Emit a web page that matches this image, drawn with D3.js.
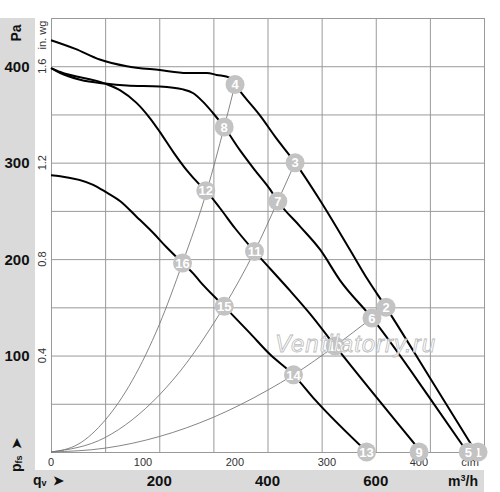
<!DOCTYPE html>
<html>
<head>
<meta charset="utf-8">
<script src="https://cdn.jsdelivr.net/npm/d3@7"></script>
<style>
  body { margin: 0; background: #fff; }
  svg { display: block; font-family: "Liberation Sans", Arial, sans-serif; }
</style>
</head>
<body>
<div id="chart"></div>
<script>
// Fan curves, [airflow m3/h, pressure Pa]
var curve1 = [[0, 427], [45, 418], [90, 407], [140, 400], [201, 396], [251, 393], [288, 393], [306, 391],
  [331, 388], [340, 381], [358, 368], [386, 349], [414, 327], [451, 300], [497, 261], [552, 210],
  [586, 178], [619, 150], [700, 77], [785, 0]];
var curve2 = [[0, 398], [17, 393], [54, 386], [100, 382], [140, 380], [201, 379], [244, 376], [263, 372],
  [281, 363], [300, 351], [320, 337], [349, 313], [377, 292], [405, 272], [419, 260], [460, 234],
  [497, 210], [534, 178], [593, 139], [706, 51], [769, 0]];
var curve3 = [[0, 398], [17, 394], [100, 382], [128, 375], [158, 362], [183, 346], [201, 332], [226, 311],
  [251, 292], [275, 277], [286, 271], [312, 253], [340, 232], [376, 208], [405, 190], [442, 167],
  [479, 143], [525, 110], [684, 0]];
var curve4 = [[0, 287], [17, 286], [78, 277], [100, 270], [128, 260], [158, 244], [189, 227], [214, 212],
  [243, 196], [263, 185], [275, 177], [320, 151], [368, 123], [405, 101], [448, 80], [488, 54], [584, 0]];

// System (duct) curves, thin grey
var system1 = [[0, 0], [50, 8], [100, 33], [150, 74], [200, 132], [243, 196], [288, 271], [320, 337], [340, 381]];
var system2 = [[0, 0], [100, 15], [200, 59], [250, 92], [300, 133], [320, 151], [376, 208], [419, 260], [451, 300]];
var system3 = [[0, 0], [100, 4], [200, 16], [300, 36], [400, 64], [448, 80], [525, 110], [593, 139], [619, 150]];

// Operating point markers
var markerLabels = ["1", "2", "3", "4", "5", "6", "7", "8", "9", "10", "11", "12", "13", "14", "15", "16"];
var markerFlow = [789, 619, 451, 340, 771, 593, 419, 320, 680, 525, 376, 286, 583, 448, 320, 243];
var markerPress = [0, 150, 300, 381, 0, 139, 260, 337, 0, 110, 208, 271, 0, 80, 151, 196];

// Axis labels
var paTicks = [100, 200, 300, 400];
var inwgTicks = [0.4, 0.8, 1.2, 1.6];
var cfmTicks = [0, 100, 200, 300, 400];
var m3hTicks = [200, 400, 600];

var svgWidth = 500;
var svgHeight = 492;
var margin = { top: 18, right: 16, bottom: 40, left: 51 };
var width = svgWidth - margin.left - margin.right;
var height = svgHeight - margin.top - margin.bottom;

var svg = d3.select("#chart").append("svg")
  .attr("width", svgWidth)
  .attr("height", svgHeight);

// grey label bands
svg.append("rect").attr("x", 0).attr("y", margin.top).attr("width", 35).attr("height", svgHeight - margin.top).attr("fill", "#dadada");
svg.append("rect").attr("x", 0).attr("y", 470).attr("width", margin.left + width).attr("height", 22).attr("fill", "#dadada");

var chart = svg.append("g").attr("transform", `translate(${margin.left},${margin.top})`);

var x = d3.scaleLinear().domain([0, 800]).range([0, width]);
var y = d3.scaleLinear().domain([0, 450]).range([height, 0]);
var xCfm = d3.scaleLinear().domain([0, 800 / 1.699]).range([0, width]);
var yInwg = d3.scaleLinear().domain([0, 1.8]).range([height, 0]);

// grid
chart.append("g")
  .attr("transform", `translate(0,${height})`)
  .call(d3.axisBottom(x).tickValues(d3.range(0, 801, 100)).tickSize(-height).tickFormat(""))
  .call(g => g.select(".domain").remove())
  .call(g => g.selectAll("line").attr("stroke", "#999").attr("stroke-width", 1));
chart.append("g")
  .call(d3.axisLeft(y).tickValues(d3.range(0, 451, 50)).tickSize(-width).tickFormat(""))
  .call(g => g.select(".domain").remove())
  .call(g => g.selectAll("line").attr("stroke", "#999").attr("stroke-width", 1));

var line = d3.line()
  .x(d => x(d[0]))
  .y(d => y(d[1]))
  .curve(d3.curveMonotoneX);

[system1, system2, system3].forEach(function(s) {
  chart.append("path").datum(s)
    .attr("d", line)
    .attr("fill", "none")
    .attr("stroke", "#777")
    .attr("stroke-width", 0.9);
});

[curve1, curve2, curve3, curve4].forEach(function(c) {
  chart.append("path").datum(c)
    .attr("d", line)
    .attr("fill", "none")
    .attr("stroke", "#000")
    .attr("stroke-width", 2);
});

// cfm labels under the plot
chart.selectAll(".cfm").data(cfmTicks).enter().append("text")
  .attr("x", d => xCfm(d))
  .attr("y", height + 14)
  .attr("text-anchor", "middle")
  .attr("font-size", 11)
  .attr("fill", "#333")
  .text(d => d);
chart.append("text")
  .attr("x", width - 14)
  .attr("y", height + 14)
  .attr("text-anchor", "middle")
  .attr("font-size", 11)
  .attr("fill", "#333")
  .text("cfm");

// markers
var markers = markerLabels.map((m, i) => ({ label: m, q: markerFlow[i], p: markerPress[i] }));
var mg = chart.selectAll(".marker").data(markers).enter().append("g")
  .attr("transform", d => `translate(${x(d.q)},${y(d.p)})`);
mg.append("circle").attr("r", 9.5).attr("fill", "#c3c3c3");
mg.append("text")
  .attr("text-anchor", "middle")
  .attr("dy", "0.36em")
  .attr("font-size", 13)
  .attr("font-weight", "bold")
  .attr("fill", "#fff")
  .text(d => d.label);

// watermark
chart.append("text")
  .attr("x", 224)
  .attr("y", 334)
  .attr("font-size", 24)
  .attr("font-style", "italic")
  .attr("textLength", 160)
  .attr("fill", "#fff")
  .attr("fill-opacity", 0.85)
  .attr("stroke", "#bbb")
  .attr("stroke-width", 0.8)
  .text("Ventilatorry.ru");

// Pa labels in the left band
svg.selectAll(".pa").data(paTicks).enter().append("text")
  .attr("x", 17)
  .attr("y", d => margin.top + y(d))
  .attr("dy", "0.36em")
  .attr("text-anchor", "middle")
  .attr("font-size", 15)
  .attr("font-weight", "bold")
  .attr("fill", "#111")
  .text(d => d);
svg.append("text")
  .attr("transform", "translate(21,33) rotate(-90)")
  .attr("text-anchor", "middle")
  .attr("font-size", 14)
  .attr("font-weight", "bold")
  .attr("fill", "#111")
  .text("Pa");

// in. wg labels
svg.selectAll(".inwg").data(inwgTicks).enter().append("text")
  .attr("transform", d => `translate(46,${margin.top + yInwg(d)}) rotate(-90)`)
  .attr("text-anchor", "middle")
  .attr("font-size", 11)
  .attr("fill", "#333")
  .text(d => d.toFixed(1));
svg.append("text")
  .attr("transform", "translate(46,35) rotate(-90)")
  .attr("text-anchor", "middle")
  .attr("font-size", 11)
  .attr("fill", "#333")
  .text("in. wg");

// m3/h labels in the bottom band
svg.selectAll(".m3h").data(m3hTicks).enter().append("text")
  .attr("x", d => margin.left + x(d))
  .attr("y", 486)
  .attr("text-anchor", "middle")
  .attr("font-size", 15)
  .attr("font-weight", "bold")
  .attr("fill", "#111")
  .text(d => d);
svg.append("text")
  .attr("x", 478)
  .attr("y", 486)
  .attr("text-anchor", "end")
  .attr("font-size", 14)
  .attr("font-weight", "bold")
  .attr("fill", "#111")
  .html("m<tspan dy='-5' font-size='9'>3</tspan><tspan dy='5'>/h</tspan>");

// axis symbols
var qv = svg.append("text")
  .attr("x", 33)
  .attr("y", 485)
  .attr("font-size", 14)
  .attr("font-weight", "bold")
  .attr("fill", "#111");
qv.append("tspan").text("q");
qv.append("tspan").attr("font-size", 9).attr("dy", 1).text("v");
qv.append("tspan").attr("dx", 6).attr("dy", -1).attr("font-size", 13).text("➤");

var pfs = svg.append("text")
  .attr("transform", "translate(21,472) rotate(-90)")
  .attr("font-size", 14)
  .attr("font-weight", "bold")
  .attr("fill", "#111");
pfs.append("tspan").text("p");
pfs.append("tspan").attr("font-size", 9).attr("dy", 1).text("fs");
pfs.append("tspan").attr("dx", 6).attr("dy", -1).attr("font-size", 13).text("➤");
</script>
</body>
</html>
